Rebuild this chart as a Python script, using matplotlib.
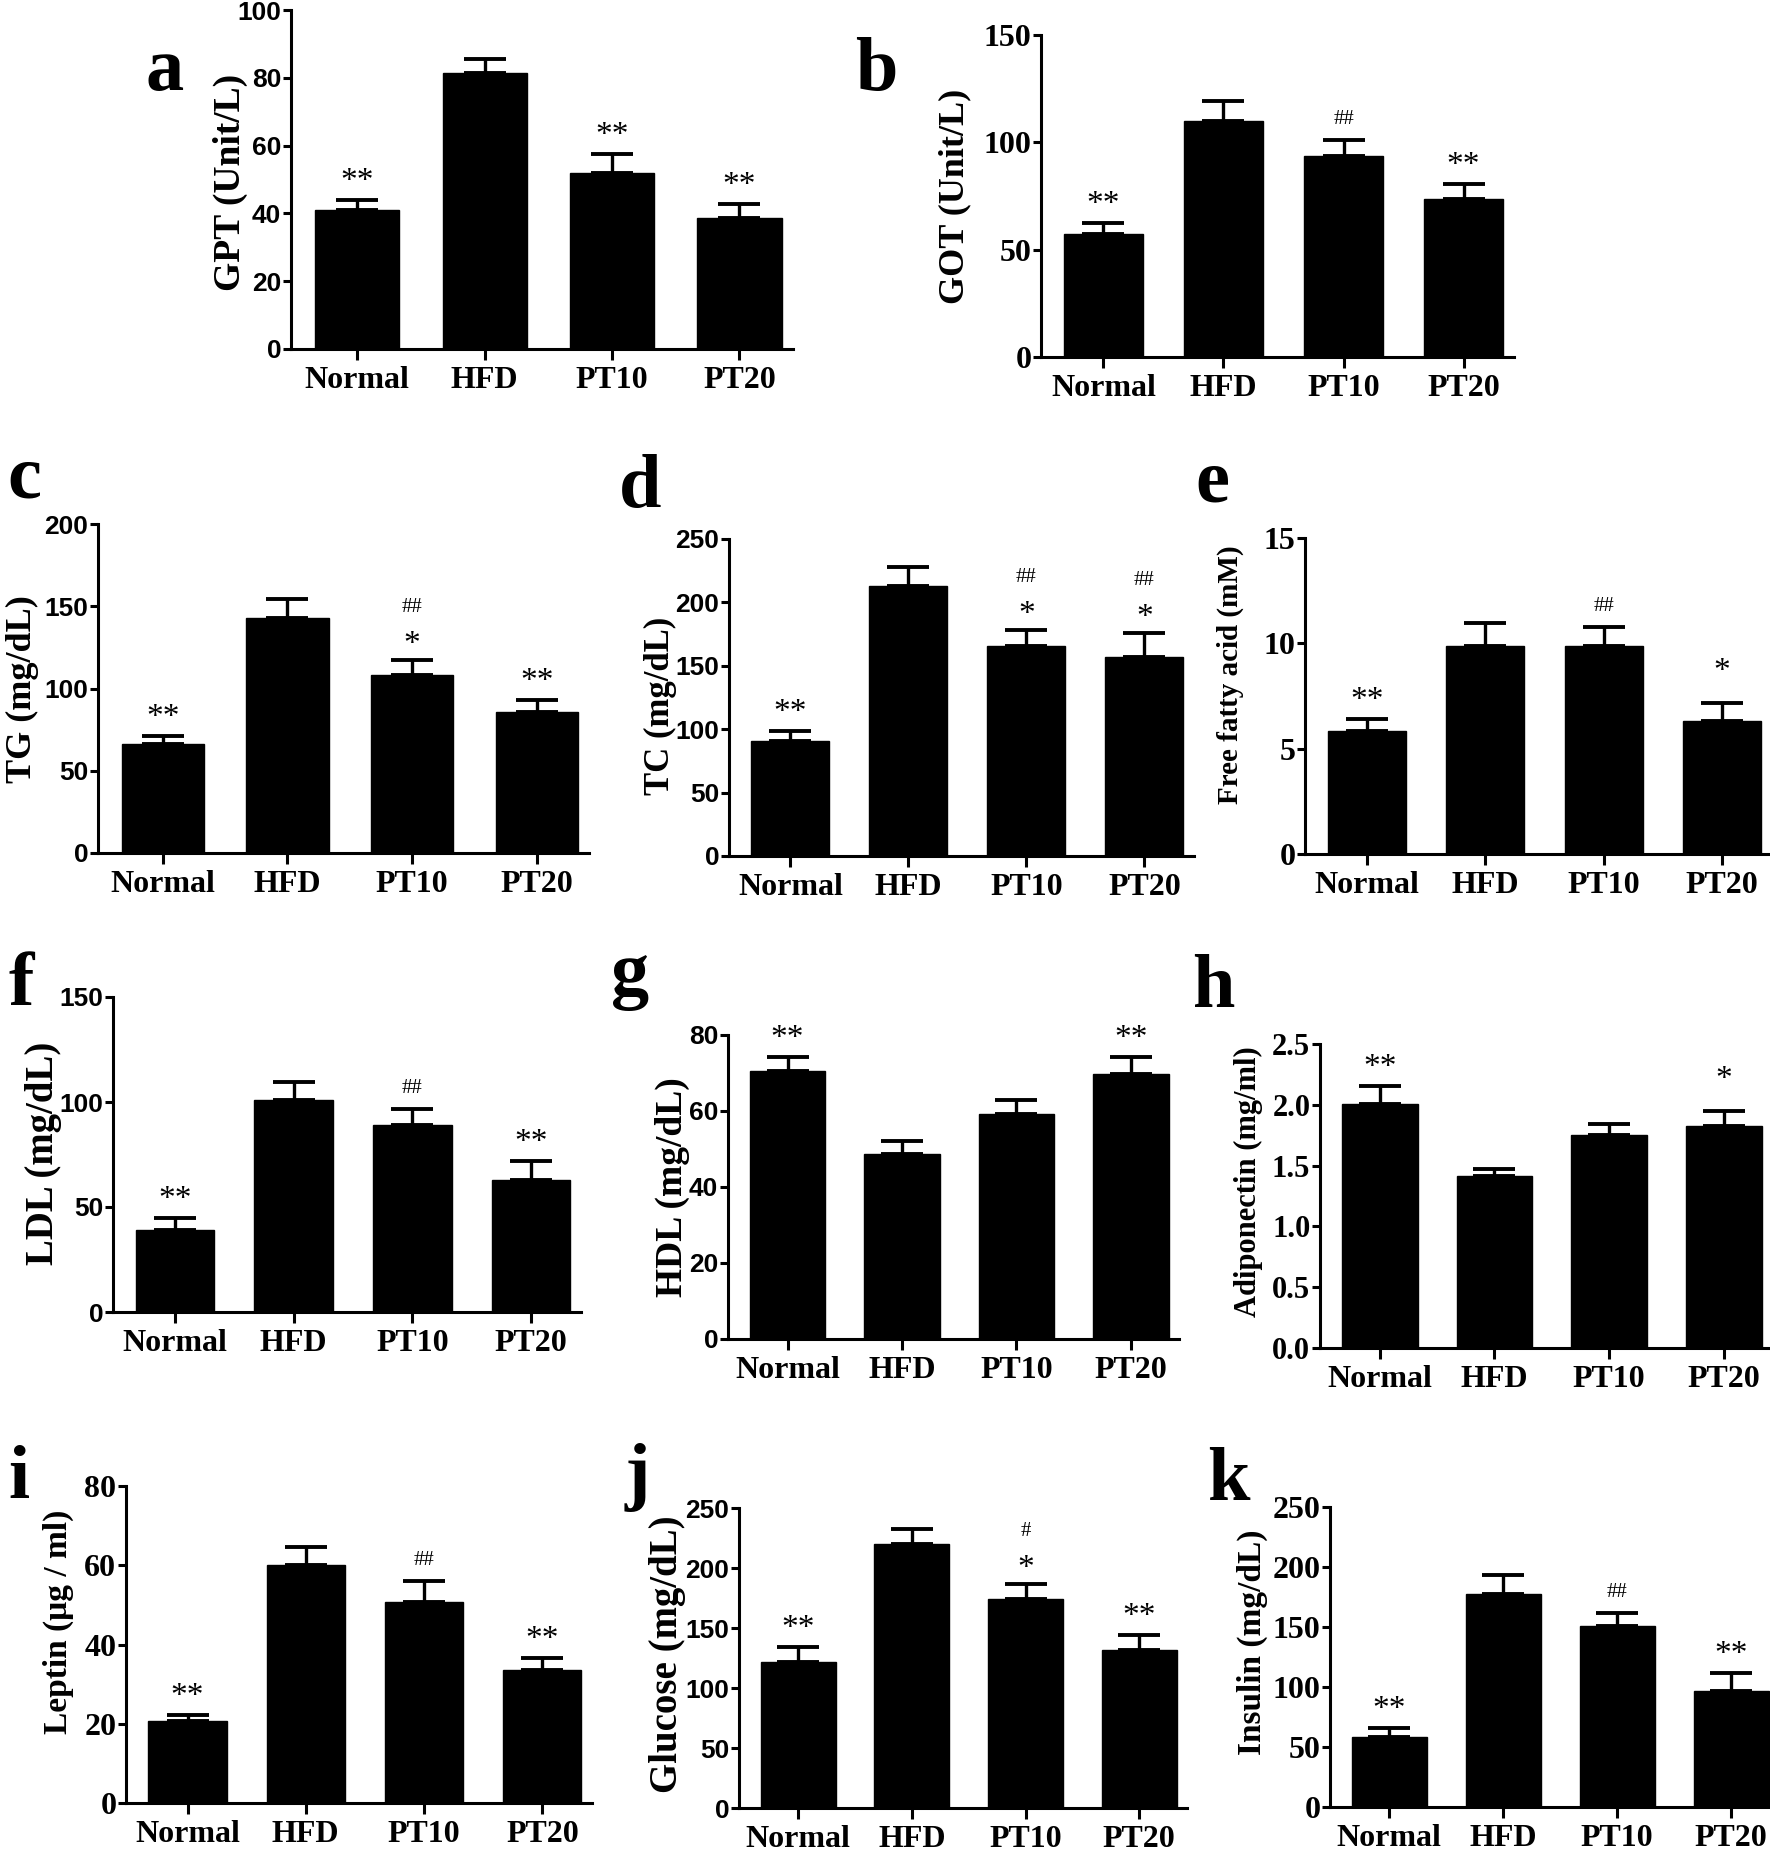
import matplotlib
matplotlib.use('Agg')
from matplotlib import pyplot as plt
from matplotlib.ticker import FormatStrFormatter
import numpy as np

groups = ['Normal', 'HFD', 'PT10', 'PT20']

# mean values and upper error (SEM)
gpt = [41.1, 81.5, 51.9, 38.6]
gpt_err = [2.9, 4.0, 5.7, 4.2]
gpt_star = ['**', '', '**', '**']
gpt_hash = ['', '', '', '']

got = [57.2, 110, 93.8, 73.4]
got_err = [5.3, 9.4, 7.3, 7.0]
got_star = ['**', '', '', '**']
got_hash = ['', '', '##', '']

tg = [66.4, 142.7, 108.3, 85.6]
tg_err = [4.9, 12.0, 9.1, 7.5]
tg_star = ['**', '', '*', '**']
tg_hash = ['', '', '##', '']

tc = [91, 212.6, 165.8, 156.8]
tc_err = [7.7, 15.0, 12.1, 19.0]
tc_star = ['**', '', '*', '*']
tc_hash = ['', '', '##', '##']

ffa = [5.86, 9.87, 9.87, 6.32]
ffa_err = [0.53, 1.10, 0.91, 0.83]
ffa_star = ['**', '', '', '*']
ffa_hash = ['', '', '##', '']

ldl = [39.2, 100.8, 89.2, 62.7]
ldl_err = [5.6, 8.7, 7.6, 9.2]
ldl_star = ['**', '', '', '**']
ldl_hash = ['', '', '##', '']

hdl = [70.6, 48.8, 59.1, 69.7]
hdl_err = [3.7, 3.2, 3.9, 4.4]
hdl_star = ['**', '', '', '**']
hdl_hash = ['', '', '', '']

adipo = [2.005, 1.415, 1.753, 1.827]
adipo_err = [0.152, 0.060, 0.093, 0.118]
adipo_star = ['**', '', '', '*']
adipo_hash = ['', '', '', '']

leptin = [20.8, 60.1, 50.6, 33.6]
leptin_err = [1.5, 4.4, 5.5, 3.1]
leptin_star = ['**', '', '', '**']
leptin_hash = ['', '', '##', '']

glucose = [121.7, 220, 174.2, 131.4]
glucose_err = [12.2, 12.8, 12.5, 12.5]
glucose_star = ['**', '', '*', '**']
glucose_hash = ['', '', '#', '']

insulin = [58.2, 177.4, 151.1, 97]
insulin_err = [7.5, 15.8, 10.2, 14.4]
insulin_star = ['**', '', '', '**']
insulin_hash = ['', '', '##', '']

W, H = 1770, 1850
PX = 72.0 / 100  # points per pixel at dpi 100
SERIF = 'Liberation Serif'
SANS = 'Liberation Sans'

fig = plt.figure(figsize=(W / 100, H / 100), dpi=100)


def panel(box, mean, err, star, hsh, ylabel, ymax, ystep, tickfont, ticksize,
          lab_xy, lab_size, letter, let_xy, fmt=None):
    x0, x1, ytop, ybot = box
    ax = fig.add_axes([x0 / W, 1 - ybot / H, (x1 - x0) / W, (ybot - ytop) / H])
    x = np.arange(len(groups))
    ax.errorbar(x, mean, yerr=[np.zeros(len(err)), err], fmt='none', ecolor='black',
                elinewidth=2.4, capsize=15, capthick=2.8, zorder=1, clip_on=False)
    ax.bar(x, mean, width=0.66, color='black', edgecolor='black', zorder=2)
    ax.set_xlim(-0.52, 3.42)
    ax.set_ylim(0, ymax)
    ax.set_yticks(np.arange(0, ymax + ystep / 2, ystep))
    if fmt:
        ax.yaxis.set_major_formatter(FormatStrFormatter(fmt))
    ax.set_xticks(x)
    ax.set_xticklabels(groups, fontfamily=SERIF, fontweight='bold', fontsize=23)
    for t in ax.get_yticklabels():
        t.set_fontfamily(tickfont)
        t.set_fontweight('bold')
        t.set_fontsize(ticksize)
    for s in ['top', 'right']:
        ax.spines[s].set_visible(False)
    for s in ['left', 'bottom']:
        ax.spines[s].set_linewidth(2.2)
    ax.tick_params(axis='y', length=6, width=2.2, pad=1)
    ax.tick_params(axis='x', length=8, width=2.2, pad=4)
    # significance marks above the error bars
    for i in range(len(groups)):
        top = mean[i] + err[i]
        s, h = star[i], hsh[i]
        if s:
            off = 16 if (s == '*' and not h) else (0 if h else 3)
            ax.annotate(s, (i, top), xytext=(0, off * PX), textcoords='offset points',
                        ha='center', va='bottom', fontfamily=SERIF, fontsize=24)
        if h:
            off = 43 if s else 11
            ax.annotate(h, (i, top), xytext=(0, off * PX), textcoords='offset points',
                        ha='center', va='bottom', fontfamily=SERIF, fontsize=15)
    fig.text(lab_xy[0] / W, 1 - lab_xy[1] / H, ylabel, rotation=90, ha='center', va='center',
             fontfamily=SERIF, fontweight='bold', fontsize=lab_size)
    fig.text(let_xy[0] / W, 1 - let_xy[1] / H, letter, ha='center', va='baseline',
             fontfamily=SERIF, fontweight='bold', fontsize=55)
    return ax


panel((291, 793, 10, 349), gpt, gpt_err, gpt_star, gpt_hash, 'GPT (Unit/L)', 100, 20,
      SANS, 19, (230, 182), 27, 'a', (165, 90))
panel((1041, 1514, 35, 357), got, got_err, got_star, got_hash, 'GOT (Unit/L)', 150, 50,
      SERIF, 23, (955, 196), 26, 'b', (876, 90))
panel((98, 589, 524, 853), tg, tg_err, tg_star, tg_hash, 'TG (mg/dL)', 200, 50,
      SANS, 19, (22, 689), 26, 'c', (24, 498))
panel((729, 1194, 539, 856), tc, tc_err, tc_star, tc_hash, 'TC (mg/dL)', 250, 50,
      SANS, 19, (660, 706), 25, 'd', (640, 507))
panel((1305, 1772, 538, 854), ffa, ffa_err, ffa_star, ffa_hash, 'Free fatty acid (mM)', 15, 5,
      SERIF, 23, (1230, 675), 21, 'e', (1212, 502))
panel((113, 581, 997, 1312), ldl, ldl_err, ldl_star, ldl_hash, 'LDL (mg/dL)', 150, 50,
      SANS, 19, (44, 1153), 28, 'f', (21, 1005))
panel((728, 1179, 1035, 1339), hdl, hdl_err, hdl_star, hdl_hash, 'HDL (mg/dL)', 80, 20,
      SANS, 19, (672, 1187), 27, 'g', (630, 995))
panel((1320, 1772, 1044, 1348), adipo, adipo_err, adipo_star, adipo_hash, 'Adiponectin (mg/ml)',
      2.5, 0.5, SERIF, 22, (1248, 1182), 22, 'h', (1213, 1007), fmt='%.1f')
panel((126, 592, 1486, 1803), leptin, leptin_err, leptin_star, leptin_hash, 'Leptin (\u03bcg / ml)',
      80, 20, SERIF, 23, (58, 1622), 24, 'i', (19, 1498))
panel((739, 1187, 1508, 1808), glucose, glucose_err, glucose_star, glucose_hash, 'Glucose (mg/dL)',
      250, 50, SANS, 19, (668, 1654), 28, 'j', (637, 1496))
panel((1330, 1779, 1507, 1807), insulin, insulin_err, insulin_star, insulin_hash, 'Insulin (mg/dL)',
      250, 50, SERIF, 23, (1252, 1642), 24, 'k', (1228, 1500))

fig.savefig('out.png', dpi=100)
